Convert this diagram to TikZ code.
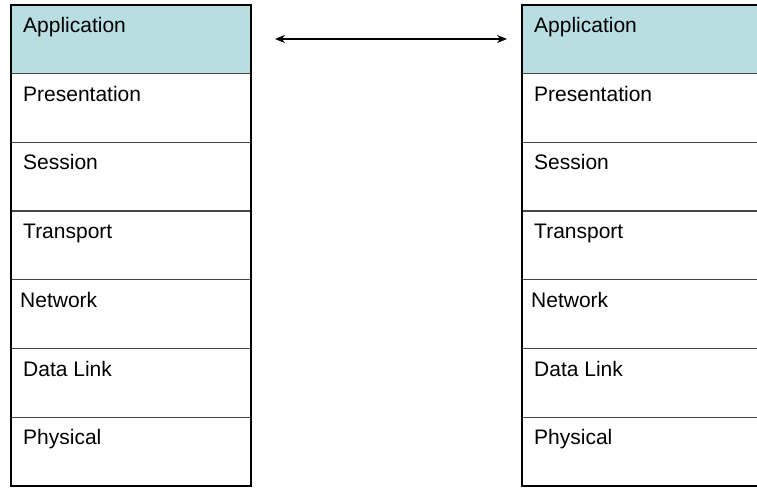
\documentclass[tikz,border=0pt]{standalone}
\usepackage{fontspec}
\setmainfont{Liberation Sans}
\usetikzlibrary{arrows.meta}
\definecolor{appblue}{RGB}{184,222,226}
\definecolor{divgray}{RGB}{70,70,70}
\begin{document}
\begin{tikzpicture}[x=1pt,y=-1pt,
  layertext/.style={anchor=base west, inner sep=0pt, font=\fontsize{21}{25}\selectfont},
  divider/.style={draw=divgray, line width=1.3pt},
  outer/.style={draw=black, line width=2.6pt},
  link/.style={{Stealth[length=10pt,width=8pt]}-{Stealth[length=10pt,width=8pt]}, line width=1.4pt}]
\clip (0,0) rectangle (757,487);
\fill[white] (0,0) rectangle (757,487);
\foreach \side/\xa/\xb in {L/11/251, R/522/800}{
  \fill[appblue] (\xa,5) rectangle (\xb,73.7);
  \foreach \k in {1,...,6}{
    \draw[divider] (\xa,{5+\k*68.7}) -- (\xb,{5+\k*68.7});
  }
  \draw[outer] (\xa,5) rectangle (\xb,486);
  \foreach \k/\name/\dx in {0/Application/0, 1/Presentation/0, 2/Session/0, 3/Transport/0, 4/Network/-3, 5/Data Link/0, 6/Physical/0}{
    \node[layertext] (\side\k) at ({\xa+12+\dx},{5+\k*68.7+27.5}) {\name};
  }
}
\coordinate (aL) at (275,39);
\coordinate (aR) at (507,39);
\draw[link] (aL) -- (aR);
\end{tikzpicture}
\end{document}
